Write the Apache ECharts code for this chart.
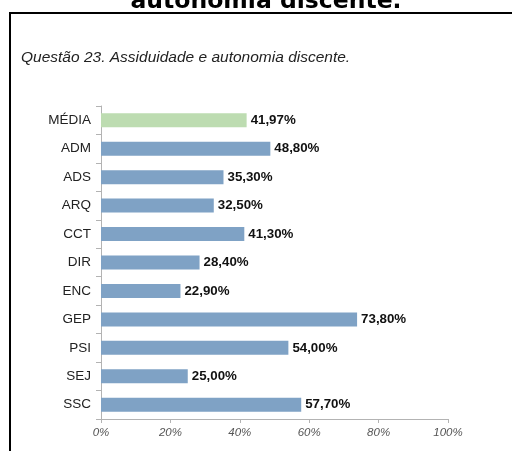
<!DOCTYPE html>
<html>
<head>
<meta charset="utf-8">
<script src="https://cdn.jsdelivr.net/npm/echarts@6/dist/echarts.min.js"></script>
<style>
  html, body { margin: 0; padding: 0; background: #fff; }
  #chart { width: 512px; height: 451px; }
</style>
</head>
<body>
<div id="chart"></div>
<script>
// Values (percent).
const categories = ['MÉDIA', 'ADM', 'ADS', 'ARQ', 'CCT', 'DIR', 'ENC', 'GEP', 'PSI', 'SEJ', 'SSC'];
const values = [41.97, 48.80, 35.30, 32.50, 41.30, 28.40, 22.90, 73.80, 54.00, 25.00, 57.70];
const xTicks = [0, 20, 40, 60, 80, 100];
const averageLabel = 'MÉDIA';

const headingText = 'autonomia discente.';
const subtitleText = 'Questão 23. Assiduidade e autonomia discente.';

const chart = echarts.init(document.getElementById('chart'), null, { renderer: 'canvas' });

const barData = categories.map((name, i) => ({
  value: values[i],
  itemStyle: { color: name === averageLabel ? '#bddcb1' : '#7fa2c5' }
}));

chart.setOption({
  animation: false,
  backgroundColor: '#ffffff',
  graphic: [
    {
      type: 'text',
      x: 266,
      y: -10,
      style: {
        text: headingText,
        align: 'center',
        verticalAlign: 'top',
        font: 'bold 23.5px "DejaVu Sans"',
        fill: '#000'
      }
    },
    {
      type: 'polyline',
      shape: { points: [[10, 460], [10, 13], [520, 13]] },
      style: { stroke: '#000', lineWidth: 2, fill: null }
    },
    {
      type: 'text',
      left: 21,
      top: 50,
      style: {
        text: subtitleText,
        font: 'italic 15.5px "Liberation Sans"',
        fill: '#222'
      }
    }
  ],
  grid: { left: 101, right: 64, top: 106, bottom: 32, containLabel: false },
  xAxis: {
    type: 'value',
    min: xTicks[0],
    max: xTicks[xTicks.length - 1],
    interval: xTicks[1] - xTicks[0],
    splitLine: { show: false },
    axisLine: { show: true, lineStyle: { color: '#b3b3b3', width: 1 } },
    axisTick: { show: true, length: 4, lineStyle: { color: '#b3b3b3' } },
    axisLabel: {
      formatter: v => v + '%',
      fontFamily: 'Liberation Sans',
      fontStyle: 'italic',
      fontSize: 11.5,
      color: '#555',
      margin: 8
    }
  },
  yAxis: {
    type: 'category',
    data: categories,
    inverse: true,
    axisLine: { show: true, lineStyle: { color: '#b3b3b3', width: 1 } },
    axisTick: { show: true, length: 5, lineStyle: { color: '#b3b3b3' } },
    axisLabel: {
      fontFamily: 'Liberation Sans',
      fontSize: 13.5,
      color: '#222',
      margin: 10
    }
  },
  series: [{
    type: 'bar',
    data: barData,
    barWidth: 14,
    label: {
      show: true,
      position: 'right',
      distance: 4,
      formatter: p => p.value.toFixed(2).replace('.', ',') + '%',
      fontFamily: 'Liberation Sans',
      fontWeight: 'bold',
      fontSize: 13.3,
      color: '#111'
    }
  }]
});
</script>
</body>
</html>
